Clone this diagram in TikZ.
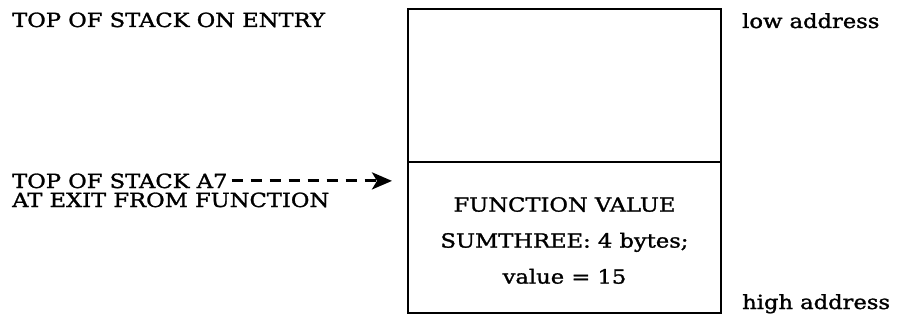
\documentclass[tikz,border=0pt]{standalone}
\usepackage{fontspec}
\setmainfont{DejaVu Serif}[FakeStretch=1.16,FakeBold=1.4]
\usetikzlibrary{arrows.meta,positioning}

\begin{document}
\begin{tikzpicture}[x=1pt,y=-1pt,
 font=\fontsize{19.5}{20}\selectfont,
 lbl/.style={inner sep=0pt,anchor=base west},
 cell/.style={draw,line width=2.2pt,minimum width=313pt,inner sep=0pt,outer sep=0pt},
 dasharr/.style={-{Stealth[length=20pt,width=17pt,inset=5pt]},line width=3pt,
   dash pattern=on 11pt off 8pt}]
\useasboundingbox (0,0) rectangle (898,321);
% the stack frame
\node[cell,minimum height=153pt] (free) at (564.5,85.5) {};
\node[cell,minimum height=151pt,below=0pt of free] (retval) {};
\node[align=center,inner sep=0pt,font=\fontsize{19.5}{36}\selectfont]
  (fnvalue) at ([yshift=-3pt]retval.center)
  {FUNCTION VALUE\\SUMTHREE: 4 bytes;\\value = 15};
% labels
\node[lbl] (entry) at (12,27) {TOP OF STACK ON ENTRY};
\node[lbl] (exittop) at (12,188) {TOP OF STACK A7};
\node[lbl] (exitbot) at (12,207) {AT EXIT FROM FUNCTION};
\node[lbl] (low) at (742,28) {low address};
\node[lbl] (high) at (742,309) {high address};
\draw[dasharr] ([xshift=4pt]exittop.east) -- ([xshift=-16pt]exittop.east -| retval.west);
\end{tikzpicture}
\end{document}
